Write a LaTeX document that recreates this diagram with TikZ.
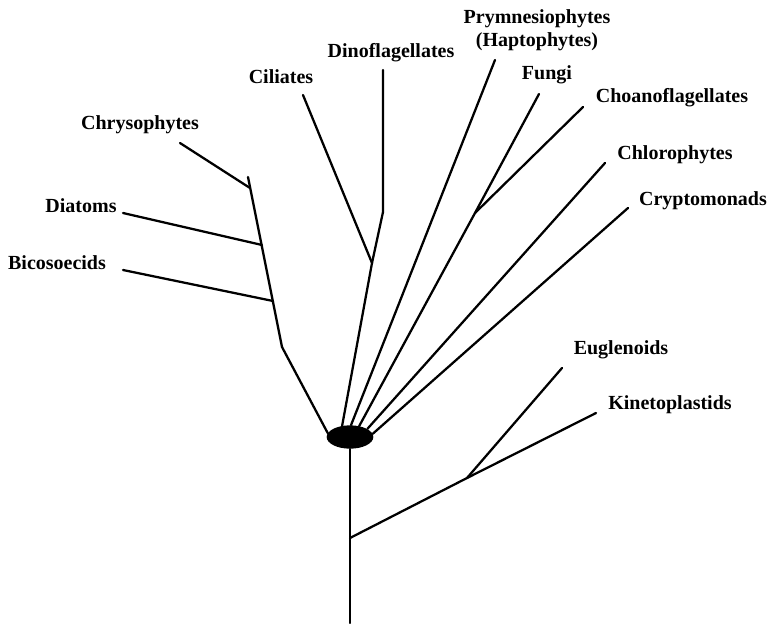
\documentclass[tikz,border=0pt]{standalone}
\usepackage{fontspec}
\setmainfont{Liberation Serif}
\usepackage{tikz}
\usetikzlibrary{shapes.geometric}

\begin{document}
\begin{tikzpicture}[x=0.75pt, y=-0.75pt,
    taxon/.style={font=\fontsize{15}{17}\selectfont\bfseries, inner sep=0pt, align=center},
    branch/.style={line width=1.7pt, line join=round, line cap=round}]
  \useasboundingbox (0,0) rectangle (767,624);

  % centre of the tree
  \node[ellipse, fill=black, inner sep=0pt, minimum width=35pt, minimum height=17.5pt] (hub) at (350,437) {};

  % labels
  \node[taxon] (chryso) at (140,125) {Chrysophytes};
  \node[taxon] (diatoms) at (81,206) {Diatoms};
  \node[taxon] (bicos) at (57,263) {Bicosoecids};
  \node[taxon] (ciliates) at (281,77) {Ciliates};
  \node[taxon] (dino) at (391,53) {Dinoflagellates};
  \node[taxon] (prymn) at (537,30) {Prymnesiophytes\\(Haptophytes)};
  \node[taxon] (fungi) at (547,75) {Fungi};
  \node[taxon] (choano) at (672,98) {Choanoflagellates};
  \node[taxon] (chloro) at (675,155) {Chlorophytes};
  \node[taxon] (crypto) at (703,201) {Cryptomonads};
  \node[taxon] (eugl) at (621,350) {Euglenoids};
  \node[taxon] (kineto) at (670,405) {Kinetoplastids};

  % branch points and tips
  \coordinate (base) at (350,623);
  \coordinate (kfork) at (350,538);
  \coordinate (ekfork) at (467,478);
  \coordinate (etip) at (562,368);
  \coordinate (ktip) at (596,413);
  \coordinate (sbend) at (282,347);
  \coordinate (stop) at (248,177);
  \coordinate (chrysoj) at (250,188);
  \coordinate (chrysotip) at (180,143);
  \coordinate (diatj) at (262,245);
  \coordinate (diattip) at (123,213);
  \coordinate (bicosj) at (273,301);
  \coordinate (bicostip) at (123,270);
  \coordinate (cdfork) at (372,263);
  \coordinate (cilitip) at (303,95);
  \coordinate (dinobend) at (383,212);
  \coordinate (dinotip) at (383,70);
  \coordinate (prymntip) at (495,60);
  \coordinate (fcfork) at (475,213);
  \coordinate (fungitip) at (539,94);
  \coordinate (choanotip) at (583,107);
  \coordinate (chlorotip) at (605,163);
  \coordinate (cryptotip) at (628,208);

  % stem and excavate branch
  \draw[branch] (hub.south) -- (base);
  \draw[branch] (kfork) -- (ekfork) -- (ktip);
  \draw[branch] (ekfork) -- (etip);

  % stramenopiles
  \draw[branch] (hub.170) -- (sbend) -- (stop);
  \draw[branch] (chrysotip) -- (chrysoj);
  \draw[branch] (diattip) -- (diatj);
  \draw[branch] (bicostip) -- (bicosj);

  % alveolates
  \draw[branch] (hub.125) -- (cdfork) -- (cilitip);
  \draw[branch] (cdfork) -- (dinobend) -- (dinotip);

  % the rest of the crown
  \draw[branch] (hub.85) -- (prymntip);
  \draw[branch] (hub.50) -- (fcfork) -- (fungitip);
  \draw[branch] (fcfork) -- (choanotip);
  \draw[branch] (hub.25) -- (chlorotip);
  \draw[branch] (hub.8) -- (cryptotip);
\end{tikzpicture}
\end{document}
